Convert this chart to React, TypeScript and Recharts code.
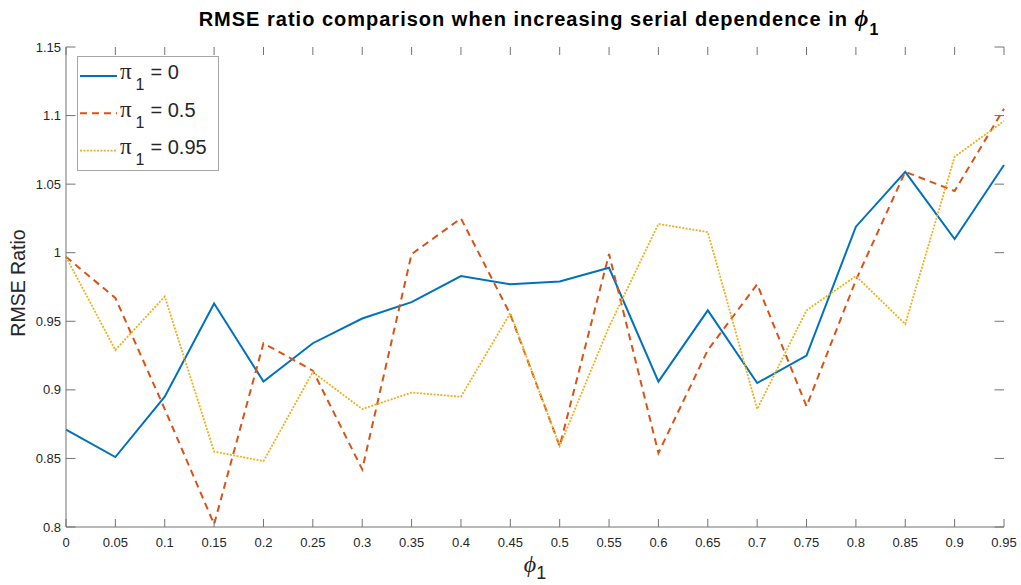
import React from 'react';
import {
  LineChart,
  Line,
  XAxis,
  YAxis,
  Legend,
} from 'recharts';

// phi_1 grid
const phiValues = [0, 0.05, 0.1, 0.15, 0.2, 0.25, 0.3, 0.35, 0.4, 0.45, 0.5, 0.55, 0.6, 0.65, 0.7, 0.75, 0.8, 0.85, 0.9, 0.95];

// RMSE ratio for each pi_1 setting
const pi0 = [0.871, 0.851, 0.895, 0.963, 0.906, 0.934, 0.952, 0.964, 0.983, 0.977, 0.979, 0.989, 0.906, 0.958, 0.905, 0.925, 1.019, 1.059, 1.01, 1.064];
const pi05 = [0.997, 0.967, 0.886, 0.802, 0.934, 0.914, 0.842, 0.999, 1.025, 0.955, 0.859, 0.999, 0.854, 0.929, 0.977, 0.888, 0.98, 1.059, 1.045, 1.105];
const pi095 = [0.997, 0.929, 0.968, 0.855, 0.848, 0.913, 0.886, 0.898, 0.895, 0.956, 0.859, 0.946, 1.021, 1.015, 0.886, 0.958, 0.983, 0.948, 1.07, 1.096];

const xTicks = phiValues;
const yTicks = [0.8, 0.85, 0.9, 0.95, 1, 1.05, 1.1, 1.15];

const rows = phiValues.map((phi, i) => ({
  phi,
  pi0: pi0[i],
  pi05: pi05[i],
  pi095: pi095[i],
}));

const SERIES = [
  { key: 'pi0', label: '0', color: '#0072BD', dash: undefined, width: 2 },
  { key: 'pi05', label: '0.5', color: '#D95319', dash: '7 5', width: 2 },
  { key: 'pi095', label: '0.95', color: '#EDB120', dash: '2 1.4', width: 1.8 },
];

const W = 1021;
const H = 585;
const MARGIN = { top: 47, right: 17, bottom: 28, left: 6 };
const PLOT_TOP = MARGIN.top;
const PLOT_RIGHT = W - MARGIN.right;

const AXIS = '#737373';
const TEXT = '#262626';
const FONT = '"Liberation Sans", Arial, sans-serif';
const SERIF = '"Liberation Serif", serif';
const X_TICK_LEN = 8;
const Y_TICK_LEN = 9.5;

const fmt = (v: number) => String(parseFloat(v.toFixed(2)));

// inward ticks on both opposite edges of the box, plus the label
const BottomTick = ({ x, y, payload }: any) => (
  <g>
    <line x1={x} y1={y} x2={x} y2={y - X_TICK_LEN} stroke={AXIS} />
    <line x1={x} y1={PLOT_TOP} x2={x} y2={PLOT_TOP + X_TICK_LEN} stroke={AXIS} />
    <text x={x} y={y + 20} textAnchor="middle" fill={TEXT} fontSize={13} fontFamily={FONT}>
      {fmt(payload.value)}
    </text>
  </g>
);

const LeftTick = ({ x, y, payload }: any) => (
  <g>
    <line x1={x} y1={y} x2={x + Y_TICK_LEN} y2={y} stroke={AXIS} />
    <line x1={PLOT_RIGHT} y1={y} x2={PLOT_RIGHT - Y_TICK_LEN} y2={y} stroke={AXIS} />
    <text x={x - 5} y={y + 4.5} textAnchor="end" fill={TEXT} fontSize={13} fontFamily={FONT}>
      {fmt(payload.value)}
    </text>
  </g>
);

const renderLegend = () => (
  <svg width={142} height={115} style={{ display: 'block' }}>
    <rect x={0.5} y={0.5} width={141} height={114} fill="#fff" stroke="#a6a6a6" />
    {SERIES.map((s, i) => {
      const cy = 20 + 37.35 * i;
      return (
        <g key={s.key}>
          <line x1={3} y1={cy} x2={40} y2={cy} stroke={s.color} strokeWidth={s.width} strokeDasharray={s.dash} />
          <text y={cy + 3.3} fill={TEXT}>
            <tspan x={43} fontFamily={SERIF} fontSize={23}>π</tspan>
            <tspan x={58.5} dy={11} fontFamily={FONT} fontSize={16}>1</tspan>
            <tspan x={73.5} dy={-11} fontFamily={FONT} fontSize={20}>{'= ' + s.label}</tspan>
          </text>
        </g>
      );
    })}
  </svg>
);

const XLabel = ({ viewBox }: any) => {
  const cx = viewBox.x + viewBox.width / 2;
  return (
    <text x={cx} y={572} textAnchor="middle" fill={TEXT} fontFamily={FONT}>
      <tspan fontFamily={SERIF} fontStyle="italic" fontSize={24}>ϕ</tspan>
      <tspan fontSize={18} dy={7}>1</tspan>
    </text>
  );
};

const YLabel = () => (
  <text
    x={25}
    y={283}
    transform="rotate(-90 25 283)"
    textAnchor="middle"
    fill={TEXT}
    fontSize={19.5}
    fontFamily={FONT}
  >
    RMSE Ratio
  </text>
);

export default function App() {
  return (
    <div style={{ position: 'absolute', left: 0, top: 0, width: W, height: H, background: '#fff' }}>
      <LineChart width={W} height={H} data={rows} margin={MARGIN}>
        <XAxis
          dataKey="phi"
          type="number"
          domain={[0, 0.95]}
          ticks={xTicks}
          height={30}
          stroke={AXIS}
          tickSize={0}
          tickMargin={0}
          tickLine={false}
          tick={(p: any) => <BottomTick {...p} />}
          interval={0}
          label={<XLabel />}
        />
        {/* top and right edges of the box */}
        <XAxis
          xAxisId="top"
          orientation="top"
          type="number"
          domain={[0, 0.95]}
          ticks={xTicks}
          height={0}
          stroke={AXIS}
          tickLine={false}
          tick={false}
        />
        <YAxis
          type="number"
          domain={[0.8, 1.15]}
          ticks={yTicks}
          width={60}
          stroke={AXIS}
          tickSize={0}
          tickMargin={0}
          tickLine={false}
          tick={(p: any) => <LeftTick {...p} />}
          interval={0}
          allowDataOverflow
          label={<YLabel />}
        />
        <YAxis
          yAxisId="right"
          orientation="right"
          type="number"
          domain={[0.8, 1.15]}
          ticks={yTicks}
          width={0}
          stroke={AXIS}
          tickLine={false}
          tick={false}
        />
        <Legend
          layout="vertical"
          align="center"
          verticalAlign="middle"
          content={renderLegend}
          wrapperStyle={{ left: 77, top: 56, width: 142, height: 115 }}
        />
        {SERIES.map((s) => (
          <Line
            key={s.key}
            dataKey={s.key}
            type="linear"
            stroke={s.color}
            strokeWidth={s.width}
            strokeDasharray={s.dash}
            dot={false}
            activeDot={false}
            isAnimationActive={false}
          />
        ))}
      </LineChart>
      <svg
        width={W}
        height={45}
        style={{ position: 'absolute', left: 0, top: 0, pointerEvents: 'none' }}
      >
        <text x={539} y={26} textAnchor="middle" fill="#000" fontFamily={FONT} fontWeight="bold" fontSize={20} letterSpacing={1}>
          RMSE ratio comparison when increasing serial dependence in{' '}
          <tspan fontFamily={SERIF} fontStyle="italic" fontSize={24}>ϕ</tspan>
          <tspan fontSize={16} dy={9}>1</tspan>
        </text>
      </svg>
    </div>
  );
}
